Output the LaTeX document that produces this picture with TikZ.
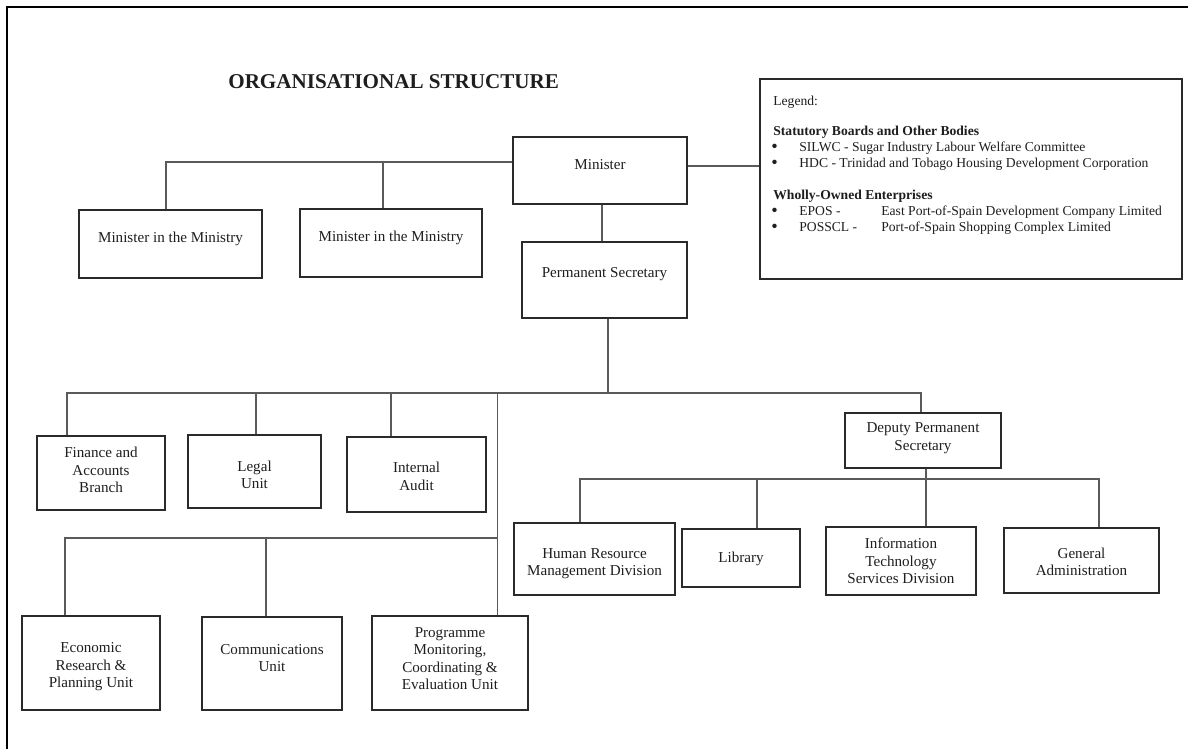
\documentclass[tikz,border=0pt]{standalone}
\usepackage{fontspec}
\setmainfont{Liberation Serif}
\usetikzlibrary{fit,calc}
\definecolor{boxc}{HTML}{2A2A2A}
\definecolor{connc}{HTML}{5A5A5A}
\definecolor{txtc}{HTML}{1E1E1E}
\tikzset{
  box/.style={draw=boxc, line width=1.1pt, inner sep=0pt},
  txt/.style={text=txtc, align=center, inner sep=0pt, font=\fontsize{8.6}{10}\selectfont},
  legtxt/.style={text=txtc, inner sep=0pt, anchor=base west, font=\fontsize{7.75}{9.1}\selectfont},
  legbold/.style={legtxt, font=\fontsize{7.75}{9.1}\selectfont\bfseries},
  legbullet/.style={text=txtc, inner sep=0pt, anchor=center, font=\fontsize{10.5}{10.5}\selectfont},
  conn/.style={draw=connc, line width=0.65pt},
  frameline/.style={draw=black, line width=1.4pt}
}
\newcommand{\orgbox}[7]{%
  \node[box, fit={(#2,#3) (#4,#5)}] (#1) {};
  \node[txt] (#1-t) at ({(#2+#4)/2},#6) {#7};}
\begin{document}
\begin{tikzpicture}[x=0.02cm,y=-0.02cm]
\useasboundingbox (0,0) rectangle (1188,749);
\fill[white] (0,0) rectangle (1188,749);
% frame
\draw[frameline] (7,749) -- (7,7) -- (1188,7);
% title
\node[text=txtc, inner sep=0pt, anchor=base west, font=\fontsize{12}{14}\selectfont\bfseries] (title) at (228,89) {ORGANISATIONAL STRUCTURE};
% boxes
\orgbox{min}{513}{137}{687}{204}{165}{Minister}
\orgbox{mim1}{79}{210}{262}{278}{239}{Minister in the Ministry}
\orgbox{mim2}{300}{209}{482}{277}{238}{Minister in the Ministry}
\orgbox{ps}{522}{242}{687}{318}{274}{Permanent Secretary}
\orgbox{fin}{37}{436}{165}{510}{470}{\fontsize{8.6}{11.1}\selectfont Finance and\\Accounts\\Branch}
\orgbox{legal}{188}{435}{321}{508}{475}{Legal\\Unit}
\orgbox{audit}{347}{437}{486}{512}{476.5}{Internal\\Audit}
\orgbox{econ}{22}{616}{160}{710}{667}{Economic\\Research \&\\Planning Unit}
\orgbox{comm}{202}{617}{342}{710}{658}{Communications\\Unit}
\orgbox{prog}{372}{616}{528}{710}{658.5}{Programme\\Monitoring,\\Coordinating \&\\Evaluation Unit}
\orgbox{dps}{845}{413}{1001}{468}{438}{Deputy Permanent\\Secretary}
\orgbox{hr}{514}{523}{675}{595}{563.5}{Human Resource\\Management Division}
\orgbox{lib}{682}{529}{800}{587}{559}{Library}
\orgbox{it}{826}{527}{976}{595}{561}{Information\\Technology\\Services Division}
\orgbox{ga}{1004}{528}{1159}{593}{562}{General\\Administration}
% legend
\node[box, fit={(760,79) (1182,279)}] (leg) {};
\node[legtxt] (leg1) at (773,106) {Legend:};
\node[legbold] (leg2) at (773,136) {Statutory Boards and Other Bodies};
\node[legbullet] (b1) at (774.5,148.5) {\textbullet};
\node[legtxt] (leg3) at (799,152) {SILWC - Sugar Industry Labour Welfare Committee};
\node[legbullet] (b2) at (774.5,164.5) {\textbullet};
\node[legtxt] (leg4) at (799,168) {HDC - Trinidad and Tobago Housing Development Corporation};
\node[legbold] (leg5) at (773,200) {Wholly-Owned Enterprises};
\node[legbullet] (b3) at (774.5,212.5) {\textbullet};
\node[legtxt] (leg6) at (799,216) {EPOS -};
\node[legtxt] (leg6b) at (881,216) {East Port-of-Spain Development Company Limited};
\node[legbullet] (b4) at (774.5,228.5) {\textbullet};
\node[legtxt] (leg7) at (799,232) {POSSCL -};
\node[legtxt] (leg7b) at (881,232) {Port-of-Spain Shopping Complex Limited};
% junction coordinates
\coordinate (ja) at (166,162);
\coordinate (jb) at (383,162);
\coordinate (jc) at (700,166);
\coordinate (jd) at (602,220);
\coordinate (bus1) at (608,393);
\coordinate (busL) at (67,393);
\coordinate (busR) at (921,393);
\coordinate (jleg) at (256,393);
\coordinate (jaud) at (391,393);
\coordinate (jv) at (497.5,393);
\coordinate (bus2) at (497.5,538);
\coordinate (bus2L) at (65,538);
\coordinate (jcomm) at (266,538);
\coordinate (jdps) at (926,479);
\coordinate (bus3L) at (580,479);
\coordinate (bus3R) at (1099,479);
\coordinate (jlib) at (757,479);
% connectors
\draw[conn] (min.west |- ja) -- (ja) -- (ja |- mim1.north);
\draw[conn] (jb) -- (jb |- mim2.north);
\draw[conn] (min.east |- jc) -- (leg.west |- jc);
\draw[conn] (min.south -| jd) -- (ps.north -| jd);
\draw[conn] (ps.south -| bus1) -- (bus1);
\draw[conn] (busL |- fin.north) -- (busL) -- (busR) -- (busR |- dps.north);
\draw[conn] (jleg) -- (jleg |- legal.north);
\draw[conn] (jaud) -- (jaud |- audit.north);
\draw[conn] (jv) -- (jv |- prog.north);
\draw[conn] (bus2L |- econ.north) -- (bus2L) -- (bus2);
\draw[conn] (jcomm) -- (jcomm |- comm.north);
\draw[conn] (dps.south -| jdps) -- (jdps |- it.north);
\draw[conn] (bus3L |- hr.north) -- (bus3L) -- (bus3R) -- (bus3R |- ga.north);
\draw[conn] (jlib) -- (jlib |- lib.north);
\end{tikzpicture}
\end{document}
